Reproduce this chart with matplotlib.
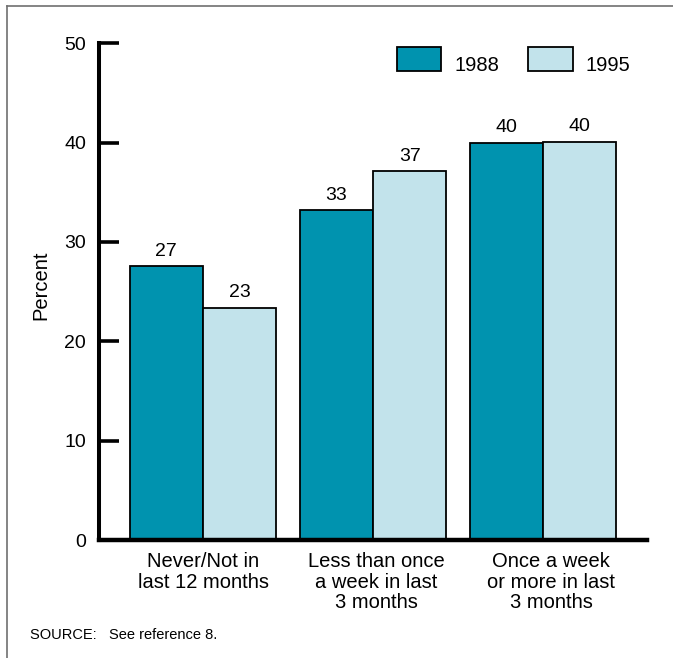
import numpy as np
import matplotlib
matplotlib.use("Agg")
import matplotlib.pyplot as plt
import matplotlib.transforms as mtransforms
from matplotlib.lines import Line2D

plt.rcParams['font.family'] = ['Liberation Sans', 'DejaVu Sans']

# data
categories = ["Never/Not in\nlast 12 months",
              "Less than once\na week in last\n3 months",
              "Once a week\nor more in last\n3 months"]
years = ["1988", "1995"]
vals_1988 = [27.6, 33.2, 40.0]
vals_1995 = [23.4, 37.1, 40.1]
labels_1988 = ["27", "33", "40"]
labels_1995 = ["23", "37", "40"]
yticks = [0, 10, 20, 30, 40, 50]

dark = "#0093AF"
light = "#C2E3EB"

fig = plt.figure(figsize=(6.73, 6.58), dpi=100)
ax = fig.add_axes([0.1467, 0.1793, 0.8147, 0.7549])

x = np.arange(len(categories))
w = 0.432
b1 = ax.bar(x - w/2, vals_1988, w, color=dark, edgecolor="black",
            linewidth=1.3, label=years[0], zorder=2)
b2 = ax.bar(x + w/2, vals_1995, w, color=light, edgecolor="black",
            linewidth=1.3, label=years[1], zorder=2)
ax.bar_label(b1, labels=labels_1988, padding=4.5, fontsize=14)
ax.bar_label(b2, labels=labels_1995, padding=4.5, fontsize=14)

ax.set_xlim(-0.6135, 2.612)
ax.set_ylim(0, 50)
ax.set_yticks(yticks)
ax.set_xticks(x)
ax.set_xticklabels(categories, fontsize=14.5, linespacing=1.12)
ax.tick_params(axis='x', length=0, pad=8.5)
ax.tick_params(axis='y', direction='in', length=14.5, width=2.6,
               pad=9, labelsize=14)

# nudge the category labels a bit to the right like the original
for lab, dx in zip(ax.get_xticklabels(), [0, 3, 8]):
    lab.set_transform(lab.get_transform() +
                      mtransforms.ScaledTranslation(dx/100, 0, fig.dpi_scale_trans))

ax.spines['top'].set_visible(False)
ax.spines['right'].set_visible(False)
ax.spines['left'].set_linewidth(2.9)
ax.spines['bottom'].set_linewidth(3.2)
ax.spines['left'].set_zorder(3)
ax.spines['bottom'].set_zorder(3)

ax.set_ylabel("Percent", fontsize=14.5)
ax.yaxis.set_label_coords(-0.088, 0.513)

leg = ax.legend(ncol=2, frameon=False, fontsize=14.5, loc='upper left',
                bbox_to_anchor=(397/673, 1 - 47/658), bbox_transform=fig.transFigure,
                borderaxespad=0, borderpad=0, handlelength=2.2, handleheight=1.45,
                handletextpad=0.65, columnspacing=1.45)
# the original legend text sits lower, near the bottom of the swatch
for t in leg.get_texts():
    t.set_transform(t.get_transform() +
                    mtransforms.ScaledTranslation(0, -0.05, fig.dpi_scale_trans))

fig.text(30/673, 1 - 635/658, "SOURCE:   See reference 8.", fontsize=10.5,
         va='center', ha='left')

# frame around the figure (cut off at the right and bottom)
fig.add_artist(Line2D([7/673, 1], [1 - 6/658, 1 - 6/658],
                      transform=fig.transFigure, color="#707070", lw=1.2))
fig.add_artist(Line2D([7/673, 7/673], [0, 1 - 6/658],
                      transform=fig.transFigure, color="#707070", lw=1.2))

fig.savefig("out.png", dpi=100)
